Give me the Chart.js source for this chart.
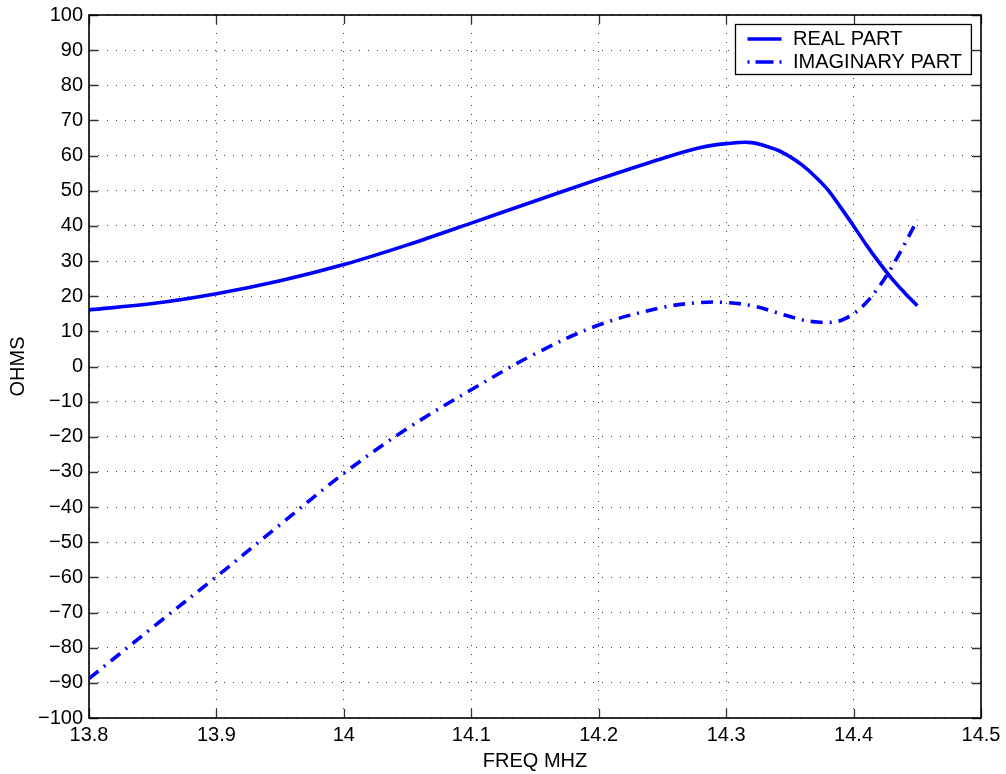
<!DOCTYPE html>
<html>
<head>
<meta charset="utf-8">
<title>Impedance vs frequency</title>
<script src="https://cdn.jsdelivr.net/npm/chart.js"></script>
<style>
  html, body { margin: 0; padding: 0; background: #fff; }
  canvas { display: block; }
</style>
</head>
<body>
<canvas id="chart" width="1006" height="774"></canvas>
<script>
// Frequency sweep (MHz) and the impedance components (ohms) at each point
const FREQ_MHZ = [13.80, 13.85, 13.90, 13.95, 14.00, 14.05, 14.10, 14.15, 14.20, 14.25, 14.28, 14.30,
                  14.32, 14.34, 14.35, 14.36, 14.37, 14.38, 14.39, 14.40, 14.41, 14.42, 14.43, 14.44, 14.45];
const REAL_PART = [16.1, 17.9, 20.7, 24.4, 29.0, 34.6, 40.8, 47.1, 53.3, 59.2, 62.3, 63.4,
                   63.7, 61.6, 59.7, 57.2, 54.0, 50.2, 45.2, 40.0, 34.6, 29.6, 25.0, 21.0, 17.3];
const IMAG_PART = [-88.8, -74.2, -59.8, -45.0, -30.4, -17.6, -6.6, 3.6, 11.8, 16.8, 18.2, 18.2,
                   17.3, 15.3, 14.2, 13.2, 12.7, 12.5, 13.1, 15.0, 18.2, 22.7, 28.3, 34.8, 41.7];

const SERIES_NAMES = ['REAL PART', 'IMAGINARY PART'];
const X_TICK_LABELS = ['13.8', '13.9', '14', '14.1', '14.2', '14.3', '14.4', '14.5'];
const Y_TICK_LABELS = ['\u2212100', '\u221290', '\u221280', '\u221270', '\u221260', '\u221250', '\u221240',
                       '\u221230', '\u221220', '\u221210', '0', '10', '20', '30', '40', '50', '60',
                       '70', '80', '90', '100'];

const BLUE = '#0000ff';
const LINE_W = 3.6;
const DASH_DOT = [12, 7, 2, 7];

Chart.defaults.font.family = '"Liberation Sans", Arial, Helvetica, sans-serif';
Chart.defaults.font.size = 20;
Chart.defaults.color = '#000';

const points = (ys) => FREQ_MHZ.map((f, i) => ({ x: f, y: ys[i] }));

// Boxed axes with inward ticks on all four sides, plus the framed legend
const boxedAxes = {
  id: 'boxedAxes',
  afterDatasetsDraw(chart) {
    const { ctx, chartArea: a, scales: { x, y } } = chart;
    const tickLen = 9;
    ctx.save();
    ctx.strokeStyle = '#333';
    ctx.lineWidth = 1.3;
    ctx.beginPath();
    x.ticks.forEach(t => {
      const px = Math.round(x.getPixelForValue(t.value)) + 0.5;
      ctx.moveTo(px, a.bottom); ctx.lineTo(px, a.bottom - tickLen);
      ctx.moveTo(px, a.top); ctx.lineTo(px, a.top + tickLen);
    });
    y.ticks.forEach(t => {
      const py = Math.round(y.getPixelForValue(t.value)) + 0.5;
      ctx.moveTo(a.left, py); ctx.lineTo(a.left + tickLen, py);
      ctx.moveTo(a.right, py); ctx.lineTo(a.right - tickLen, py);
    });
    ctx.stroke();

    ctx.strokeStyle = '#000';
    ctx.lineWidth = 1.6;
    ctx.strokeRect(a.left, a.top, a.right - a.left, a.bottom - a.top);

    // legend
    ctx.font = '20px "Liberation Sans", Arial, Helvetica, sans-serif';
    const textW = Math.max(...SERIES_NAMES.map(s => ctx.measureText(s).width));
    const boxW = 58 + textW + 9;
    const boxH = 50;
    const bx = Math.round(a.right - 10 - boxW) + 0.5;
    const by = Math.round(a.top + 9) + 0.5;
    ctx.fillStyle = '#fff';
    ctx.fillRect(bx, by, boxW, boxH);
    ctx.strokeStyle = '#000';
    ctx.lineWidth = 1.3;
    ctx.strokeRect(bx, by, boxW, boxH);

    const rows = [by + 14.5, by + 37.5];
    chart.data.datasets.forEach((ds, i) => {
      const yy = rows[i];
      ctx.save();
      ctx.strokeStyle = ds.borderColor;
      ctx.lineWidth = ds.borderWidth;
      ctx.lineCap = 'butt';
      if (ds.borderDash && ds.borderDash.length) ctx.setLineDash([2, 6, 18, 6, 2]);
      ctx.beginPath();
      ctx.moveTo(bx + 12, yy);
      ctx.lineTo(bx + 46, yy);
      ctx.stroke();
      ctx.restore();
      ctx.fillStyle = '#000';
      ctx.textBaseline = 'middle';
      ctx.textAlign = 'left';
      ctx.fillText(ds.label, bx + 57.5, yy);
    });
    ctx.restore();
  }
};

new Chart(document.getElementById('chart'), {
  type: 'line',
  data: {
    datasets: [
      {
        label: SERIES_NAMES[0],
        data: points(REAL_PART),
        borderColor: BLUE,
        backgroundColor: BLUE,
        borderWidth: LINE_W,
        pointRadius: 0,
        tension: 0.35,
        fill: false
      },
      {
        label: SERIES_NAMES[1],
        data: points(IMAG_PART),
        borderColor: BLUE,
        backgroundColor: BLUE,
        borderWidth: LINE_W,
        borderDash: DASH_DOT,
        borderCapStyle: 'butt',
        pointRadius: 0,
        tension: 0.35,
        fill: false
      }
    ]
  },
  options: {
    responsive: false,
    animation: false,
    layout: { padding: { left: 0, top: 15, right: 25, bottom: 0 } },
    plugins: { legend: { display: false }, tooltip: { enabled: false } },
    scales: {
      x: {
        type: 'linear',
        min: 13.8,
        max: 14.5,
        afterFit(scale) {
          scale.height = 56;
          scale.paddingLeft = 0; scale.paddingRight = 0;
          scale.paddingTop = 0; scale.paddingBottom = 0;
        },
        ticks: {
          stepSize: 0.1,
          padding: 5,
          maxRotation: 0,
          autoSkip: false,
          callback: (v, i) => X_TICK_LABELS[i]
        },
        grid: { color: '#444', lineWidth: 1, drawTicks: false },
        border: { display: false, dash: [1, 8] },
        title: { display: true, text: 'FREQ MHZ', padding: { top: 0, bottom: 1 } }
      },
      y: {
        type: 'linear',
        min: -100,
        max: 100,
        afterFit(scale) {
          scale.width = 89;
          scale.paddingLeft = 0; scale.paddingRight = 0;
          scale.paddingTop = 0; scale.paddingBottom = 0;
        },
        ticks: {
          stepSize: 10,
          padding: 6,
          autoSkip: false,
          callback: (v, i) => Y_TICK_LABELS[i]
        },
        grid: { color: '#444', lineWidth: 1, drawTicks: false },
        border: { display: false, dash: [1, 8] },
        title: { display: true, text: 'OHMS', padding: { top: 6, bottom: 0 } }
      }
    }
  },
  plugins: [boxedAxes]
});
</script>
</body>
</html>
